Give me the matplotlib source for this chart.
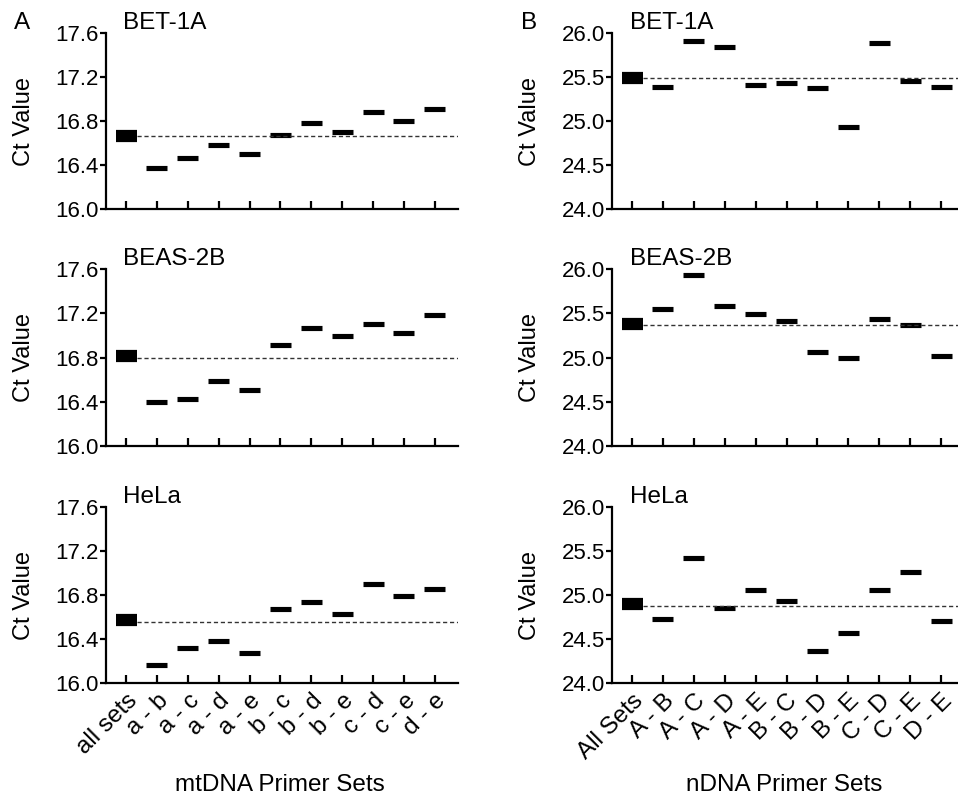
import matplotlib
matplotlib.use("Agg")
import matplotlib.pyplot as plt
import matplotlib.transforms as mtransforms
import numpy as np

plt.rcParams['font.family'] = ['Liberation Sans', 'DejaVu Sans']

W, H = 958, 797

cells = ['BET-1A', 'BEAS-2B', 'HeLa']

mt_sets = ['all sets', 'a - b', 'a - c', 'a - d', 'a - e', 'b - c',
           'b - d', 'b - e', 'c - d', 'c - e', 'd - e']
n_sets = ['All Sets', 'A - B', 'A - C', 'A - D', 'A - E', 'B - C',
          'B - D', 'B - E', 'C - D', 'C - E', 'D - E']

# Ct values (centre of each floating bar)
mt_bet1a = [16.665, 16.37, 16.468, 16.58, 16.50, 16.674, 16.783, 16.704, 16.88, 16.80, 16.91]
mt_beas2b = [16.817, 16.396, 16.426, 16.585, 16.51, 16.91, 17.069, 16.994, 17.099, 17.024, 17.18]
mt_hela = [16.57, 16.16, 16.315, 16.38, 16.27, 16.675, 16.74, 16.63, 16.90, 16.795, 16.855]
mt_mean = [16.662, 16.80, 16.555]

n_bet1a = [25.494, 25.385, 25.906, 25.845, 25.408, 25.434, 25.37, 24.936, 25.89, 25.46, 25.389]
n_beas2b = [25.381, 25.553, 25.93, 25.58, 25.497, 25.415, 25.066, 24.994, 25.437, 25.362, 25.013]
n_hela = [24.893, 24.73, 25.422, 24.856, 25.06, 24.934, 24.368, 24.573, 25.06, 25.265, 24.70]
n_mean = [25.494, 25.37, 24.878]

mt_yticks = [16.0, 16.4, 16.8, 17.2, 17.6]
n_yticks = [24.0, 24.5, 25.0, 25.5, 26.0]

fig = plt.figure(figsize=(W / 100, H / 100), dpi=100)


def box(l, t, r, b):
    return [l / W, 1 - b / H, (r - l) / W, (b - t) / H]


rows = [(33, 209), (269, 446), (507, 683)]


def panel(rect, vals, mean, yticks, xlim, labels, show_x):
    ax = fig.add_axes(rect)
    x = np.arange(len(vals))
    ax.hlines(vals[0], x[0] - 0.34, x[0] + 0.34, color='black', lw=8.8, capstyle='butt')
    ax.hlines(vals[1:], x[1:] - 0.34, x[1:] + 0.34, color='black', lw=3.7, capstyle='butt')
    ax.hlines(mean, 0.36, xlim[1], color='#333333', lw=1.0, linestyles=(0, (3, 2)))
    ax.set_xlim(*xlim)
    ax.set_ylim(yticks[0], yticks[-1])
    ax.set_yticks(yticks)
    ax.set_yticklabels(['%.1f' % v for v in yticks], fontsize=16)
    ax.set_xticks(x)
    if show_x:
        ax.set_xticklabels(labels, rotation=45, ha='right', rotation_mode='anchor', fontsize=17.5)
        off = mtransforms.ScaledTranslation(7 / 100, -3 / 100, fig.dpi_scale_trans)
        for lab in ax.get_xticklabels():
            lab.set_transform(lab.get_transform() + off)
    else:
        ax.set_xticklabels([])
    for s in ['top', 'right']:
        ax.spines[s].set_visible(False)
    for s in ['left', 'bottom']:
        ax.spines[s].set_linewidth(1.6)
    ax.tick_params(axis='y', direction='out', length=4, width=1.6, pad=1)
    ax.tick_params(axis='x', direction='in', length=6, width=1.6, pad=5)
    ax.set_ylabel('Ct Value', fontsize=17, labelpad=15)
    return ax


mt_data = [mt_bet1a, mt_beas2b, mt_hela]
n_data = [n_bet1a, n_beas2b, n_hela]

for i, (t, b) in enumerate(rows):
    panel(box(106, t, 458, b), mt_data[i], mt_mean[i], mt_yticks, (-0.65, 10.75),
          mt_sets, i == 2)
    panel(box(612, t, 958, b), n_data[i], n_mean[i], n_yticks, (-0.65, 10.55),
          n_sets, i == 2)
    fig.text(123 / W, 1 - (t - 4) / H, cells[i], fontsize=17.5, va='baseline')
    fig.text(630 / W, 1 - (t - 4) / H, cells[i], fontsize=17.5, va='baseline')

fig.text(14 / W, 1 - 29 / H, 'A', fontsize=17.5, va='baseline')
fig.text(521 / W, 1 - 29 / H, 'B', fontsize=17.5, va='baseline')
fig.text(280 / W, 1 - 791 / H, 'mtDNA Primer Sets', fontsize=17.5, ha='center', va='baseline')
fig.text(784 / W, 1 - 791 / H, 'nDNA Primer Sets', fontsize=17.5, ha='center', va='baseline')

fig.savefig('out.png', dpi=100)
